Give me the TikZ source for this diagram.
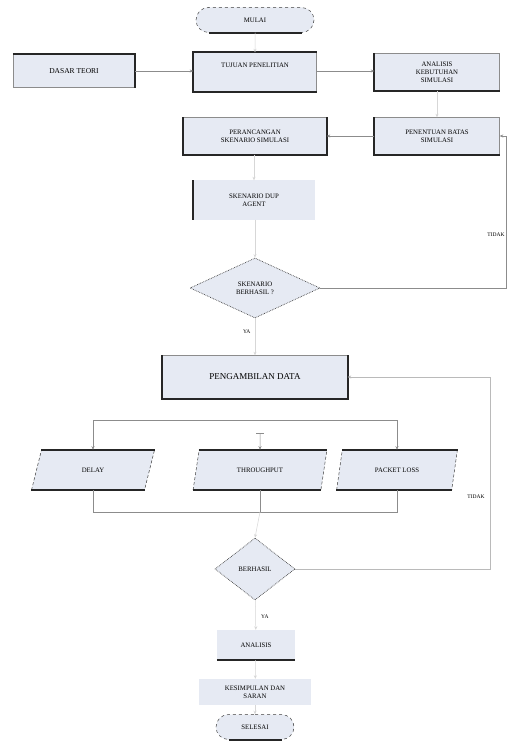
\documentclass[tikz,border=0pt]{standalone}
\usepackage{fontspec}
\setmainfont{Liberation Serif}
\usetikzlibrary{shapes.geometric,shapes.misc,arrows.meta}
\definecolor{boxfill}{RGB}{230,234,243}
\definecolor{lnc}{RGB}{140,140,140}
\begin{document}
\begin{tikzpicture}[x=1pt,y=-1pt,
  every node/.style={font=\fontsize{6.8}{7.8}\selectfont},
  box/.style={draw=lnc, fill=boxfill, line width=0.4pt, align=center, inner sep=1pt},
  term/.style={rounded rectangle, draw=black!75, dashed, fill=boxfill, line width=0.5pt, align=center, inner sep=1pt},
  dec/.style={diamond, draw=black!75, densely dotted, fill=boxfill, line width=0.7pt, align=center, inner sep=0pt},
  io/.style={trapezium, trapezium left angle=70, trapezium right angle=110, trapezium stretches=true, draw=black!75, densely dashed, fill=boxfill, line width=0.5pt, align=center, inner sep=1pt},
  thk/.style={line width=1.8pt, black!85},
  arr/.style={draw=lnc, line width=0.5pt, -{Stealth[length=3.5pt,width=3pt]}},
  farr/.style={arr, draw=lnc!35},
  ln/.style={draw=lnc, line width=0.5pt},
  lbl/.style={font=\fontsize{5.5}{6}\selectfont}
]
\useasboundingbox (0,0) rectangle (508,743);
\fill[white] (0,0) rectangle (508,743);

% nodes
\node[term, minimum width=120, minimum height=25] (mulai) at (255,20) {MULAI};
\node[box, minimum width=122, minimum height=33, font=\fontsize{7.5}{8.5}\selectfont] (dasar) at (74,71) {DASAR TEORI};
\node[box, minimum width=123, minimum height=39, text depth=14pt] (tujuan) at (255,72) {TUJUAN PENELITIAN};
\node[box, minimum width=125, minimum height=37] (kebutuhan) at (437,72) {ANALISIS\\KEBUTUHAN\\SIMULASI};
\node[box, minimum width=125, minimum height=37] (batas) at (437,136) {PENENTUAN BATAS\\SIMULASI};
\node[box, minimum width=143, minimum height=37] (rancang) at (255,136) {PERANCANGAN\\SKENARIO SIMULASI};
\node[box, draw=none, minimum width=122, minimum height=39] (dup) at (254,200) {SKENARIO DUP\\AGENT};
\node[dec, minimum width=130, minimum height=60] (berhasil1) at (255,288) {SKENARIO\\BERHASIL ?};
\node[box, minimum width=185, minimum height=43, font=\fontsize{9}{10}\selectfont] (ambil) at (255,377) {PENGAMBILAN DATA};
\node[io, minimum width=123, minimum height=40] (delay) at (93,470) {DELAY};
\node[io, minimum width=134, minimum height=40] (thr) at (260,470) {THROUGHPUT};
\node[io, minimum width=121, minimum height=40] (loss) at (397,470) {PACKET LOSS};
\node[dec, minimum width=80, minimum height=62] (berhasil2) at (255,569) {BERHASIL};
\node[box, draw=none, minimum width=78, minimum height=30] (analisis) at (256,645) {ANALISIS};
\node[box, draw=none, minimum width=112, minimum height=26] (simpul) at (255,692) {KESIMPULAN DAN\\SARAN};
\node[term, minimum width=80, minimum height=25] (selesai) at (255,727) {SELESAI};

% heavy edges
\draw[thk] (mulai.south west) -- (mulai.south east);
\draw[thk] (dasar.north west) -- (dasar.north east) -- (dasar.south east);
\draw[thk] (tujuan.south east) -- (tujuan.south west) -- (tujuan.north west) -- (tujuan.north east);
\draw[thk] (kebutuhan.north west) -- (kebutuhan.south west) -- (kebutuhan.south east);
\draw[thk] (batas.north west) -- (batas.south west) -- (batas.south east);
\draw[thk] (rancang.north west) -- (rancang.south west) -- (rancang.south east) -- (rancang.north east);
\draw[thk] (dup.north west) -- (dup.south west);
\draw[thk] (ambil.north west) -- (ambil.south west) -- (ambil.south east) -- (ambil.north east);
\foreach \n in {delay,thr,loss}{
  \draw[thk] (\n.top left corner) -- (\n.top right corner);
  \draw[thk] (\n.bottom left corner) -- (\n.bottom right corner);
}
\draw[thk] (analisis.south west) -- (analisis.south east);
\draw[thk] (selesai.south west) -- (selesai.south east);

% connectors
\draw[farr] (mulai) -- (tujuan);
\draw[arr] (dasar) -- (dasar -| tujuan.west);
\draw[arr] (tujuan.east |- dasar) -- (kebutuhan.west |- dasar);
\draw[farr] (kebutuhan) -- (batas);
\draw[arr] (batas) -- (rancang);
\draw[farr] (rancang.south -| dup) -- (dup);
\draw[farr] (dup.south -| berhasil1) -- (berhasil1);
\draw[farr] (berhasil1) -- node[lbl, pos=0.35, left=1pt, text=black] {YA} (ambil);
\coordinate (r1) at (506,288);
\draw[arr] (berhasil1.east) -- (r1) -- (r1 |- batas) -- (batas.east);
\node[lbl, anchor=east] (tidak1) at (508,235) {TIDAK};

\coordinate (bt) at (255,420);
\draw[ln] (delay.north |- bt) -- (loss.north |- bt);
\draw[arr] (delay.north |- bt) -- (delay.north);
\draw[arr] (loss.north |- bt) -- (loss.north);
\coordinate (ts) at (260,433);
\draw[ln] (256,433) -- (264,433);
\draw[arr] (ts) -- (thr.north);

\coordinate (bb) at (255,512);
\draw[ln] (delay.south) -- (delay.south |- bb) -- (loss.south |- bb) -- (loss.south);
\draw[ln] (thr.south) -- (thr.south |- bb);
\draw[farr] (thr.south |- bb) -- (berhasil2.north);
\draw[farr] (berhasil2) -- node[lbl, pos=0.55, right=2pt, text=black] {YA} (analisis);
\coordinate (r2) at (490,569);
\draw[arr, draw=lnc!60] (berhasil2.east) -- (r2) -- (r2 |- ambil) -- (ambil.east);
\node[lbl, anchor=east] (tidak2) at (488,497) {TIDAK};
\draw[farr] (analisis) -- (simpul);
\draw[farr] (simpul) -- (selesai);
\end{tikzpicture}
\end{document}
